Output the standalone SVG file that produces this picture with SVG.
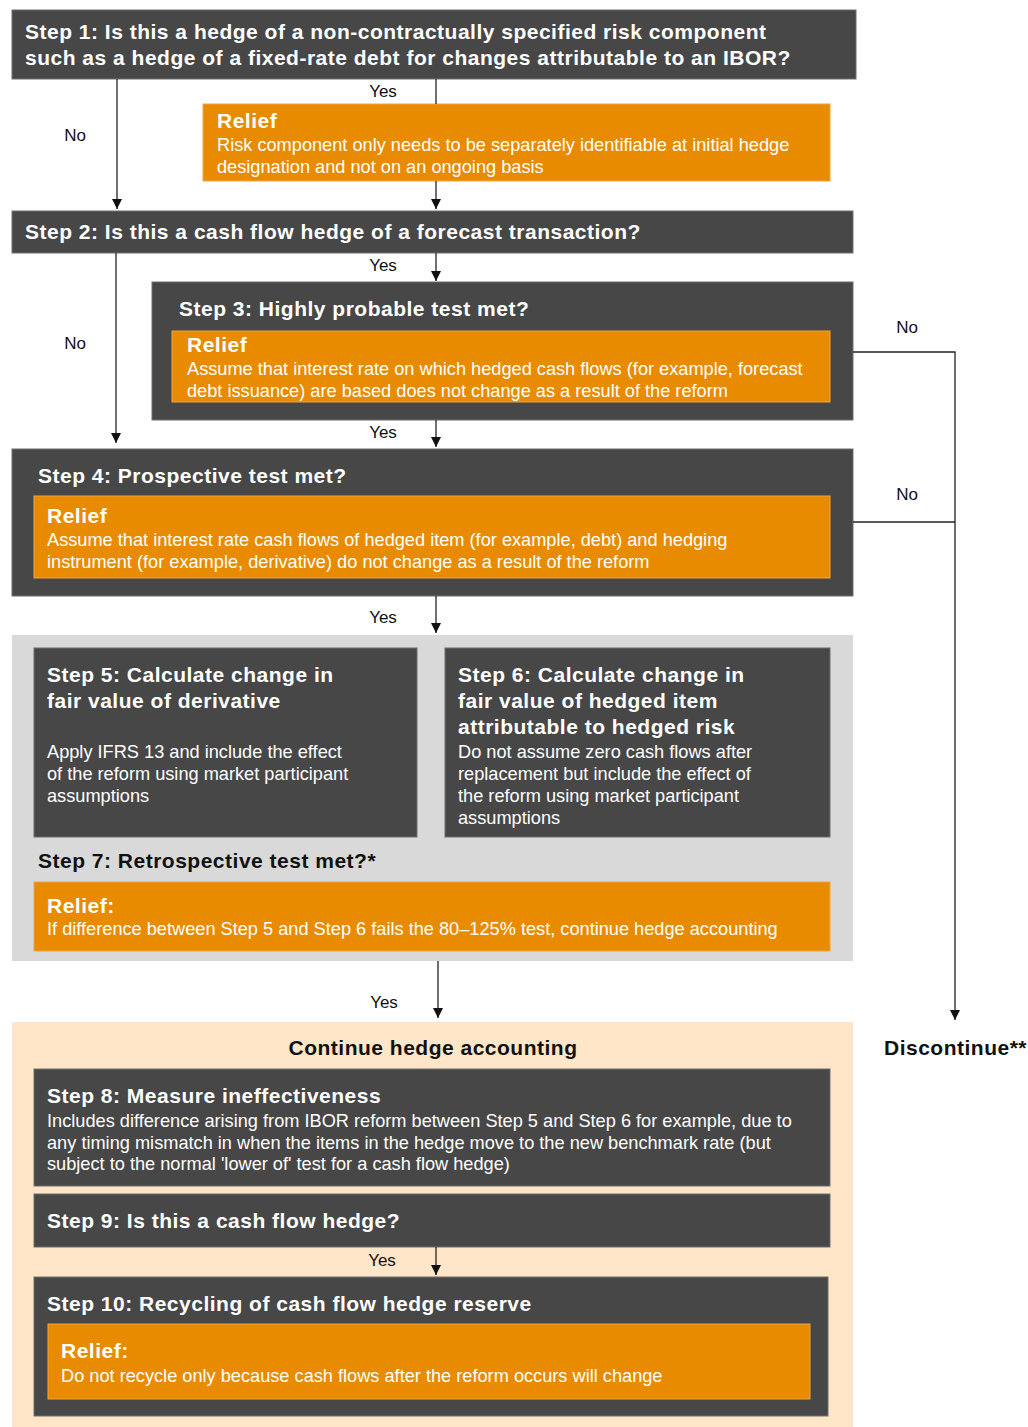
<svg xmlns="http://www.w3.org/2000/svg" width="1028" height="1427" viewBox="0 0 1028 1427">
<defs>
<marker id="ah" viewBox="0 0 10 10" refX="10" refY="5" markerWidth="10" markerHeight="10" markerUnits="userSpaceOnUse" orient="auto">
<path d="M0,0 L10,5 L0,10 z" fill="#111"/>
</marker>
<style>
.dark{fill:#474747;stroke:#6e6e6e;stroke-width:1}
.rel{fill:#E98B00;stroke:#F0A640;stroke-width:1}
.grey{fill:#D9D9D9}
.peach{fill:#FFE6C8}
.t{font-family:"Liberation Sans",Arial,sans-serif;font-weight:bold;font-size:21px;fill:#fff;letter-spacing:0.5px}
.tb{font-family:"Liberation Sans",Arial,sans-serif;font-weight:bold;font-size:21px;fill:#111;letter-spacing:0.5px}
.b{font-family:"Liberation Sans",Arial,sans-serif;font-size:18.2px;fill:#fff}
.lab{font-family:"Liberation Sans",Arial,sans-serif;font-size:17px;fill:#111}
.c{fill:none;stroke:#222;stroke-width:1.3}
</style>
</defs>

<g id="step1">
<rect class="dark" x="12" y="10" width="844" height="69"/>
<text class="t" x="25" y="39">Step 1: Is this a hedge of a non-contractually specified risk component</text>
<text class="t" x="25" y="65">such as a hedge of a fixed-rate debt for changes attributable to an IBOR?</text>
</g>

<g id="relief1">
<rect class="rel" x="203" y="104" width="627" height="77"/>
<text class="t" x="217" y="128">Relief</text>
<text class="b" x="217" y="151">Risk component only needs to be separately identifiable at initial hedge</text>
<text class="b" x="217" y="173">designation and not on an ongoing basis</text>
</g>

<g id="step2">
<rect class="dark" x="12" y="211" width="841" height="42"/>
<text class="t" x="25" y="239">Step 2: Is this a cash flow hedge of a forecast transaction?</text>
</g>

<g id="step3">
<rect class="dark" x="152" y="282" width="701" height="138"/>
<text class="t" x="179" y="316">Step 3: Highly probable test met?</text>
<rect class="rel" x="172" y="331" width="658" height="71"/>
<text class="t" x="187" y="352">Relief</text>
<text class="b" x="187" y="375">Assume that interest rate on which hedged cash flows (for example, forecast</text>
<text class="b" x="187" y="397">debt issuance) are based does not change as a result of the reform</text>
</g>

<g id="step4">
<rect class="dark" x="12" y="449" width="841" height="147"/>
<text class="t" x="38" y="483">Step 4: Prospective test met?</text>
<rect class="rel" x="34" y="496" width="796" height="82"/>
<text class="t" x="47" y="523">Relief</text>
<text class="b" x="47" y="546">Assume that interest rate cash flows of hedged item (for example, debt) and hedging</text>
<text class="b" x="47" y="568">instrument (for example, derivative) do not change as a result of the reform</text>
</g>

<g id="step5to7">
<rect class="grey" x="12" y="635" width="841" height="326"/>
<g id="step5">
<rect class="dark" x="34" y="648" width="383" height="189"/>
<text class="t" x="47" y="682">Step 5: Calculate change in</text>
<text class="t" x="47" y="708">fair value of derivative</text>
<text class="b" x="47" y="758">Apply IFRS 13 and include the effect</text>
<text class="b" x="47" y="780">of the reform using market participant</text>
<text class="b" x="47" y="802">assumptions</text>
</g>
<g id="step6">
<rect class="dark" x="445" y="648" width="385" height="189"/>
<text class="t" x="458" y="682">Step 6: Calculate change in</text>
<text class="t" x="458" y="708">fair value of hedged item</text>
<text class="t" x="458" y="734">attributable to hedged risk</text>
<text class="b" x="458" y="758">Do not assume zero cash flows after</text>
<text class="b" x="458" y="780">replacement but include the effect of</text>
<text class="b" x="458" y="802">the reform using market participant</text>
<text class="b" x="458" y="824">assumptions</text>
</g>
<g id="step7">
<text class="tb" x="38" y="868">Step 7: Retrospective test met?*</text>
<rect class="rel" x="34" y="882" width="796" height="69"/>
<text class="t" x="47" y="913">Relief:</text>
<text class="b" x="47" y="935">If difference between Step 5 and Step 6 fails the 80–125% test, continue hedge accounting</text>
</g>
</g>

<g id="continue">
<rect class="peach" x="12" y="1022" width="841" height="405"/>
<text class="tb" x="433" y="1055" text-anchor="middle">Continue hedge accounting</text>
<g id="step8">
<rect class="dark" x="34" y="1069" width="796" height="117"/>
<text class="t" x="47" y="1103">Step 8: Measure ineffectiveness</text>
<text class="b" x="47" y="1127">Includes difference arising from IBOR reform between Step 5 and Step 6 for example, due to</text>
<text class="b" x="47" y="1149">any timing mismatch in when the items in the hedge move to the new benchmark rate (but</text>
<text class="b" x="47" y="1170">subject to the normal 'lower of' test for a cash flow hedge)</text>
</g>
<g id="step9">
<rect class="dark" x="34" y="1194" width="796" height="53"/>
<text class="t" x="47" y="1228">Step 9: Is this a cash flow hedge?</text>
</g>
<g id="step10">
<rect class="dark" x="34" y="1277" width="794" height="139"/>
<text class="t" x="47" y="1311">Step 10: Recycling of cash flow hedge reserve</text>
<rect class="rel" x="48" y="1324" width="762" height="75"/>
<text class="t" x="61" y="1358">Relief:</text>
<text class="b" x="61" y="1382">Do not recycle only because cash flows after the reform occurs will change</text>
</g>
</g>

<g id="discontinue">
<text class="tb" x="884" y="1055">Discontinue**</text>
</g>

<g id="connectors">
<line class="c" x1="117" y1="79" x2="117" y2="209" marker-end="url(#ah)"/>
<line class="c" x1="436" y1="79" x2="436" y2="104"/>
<line class="c" x1="436" y1="181" x2="436" y2="209" marker-end="url(#ah)"/>
<line class="c" x1="436" y1="253" x2="436" y2="281" marker-end="url(#ah)"/>
<line class="c" x1="116" y1="253" x2="116" y2="443" marker-end="url(#ah)"/>
<line class="c" x1="436" y1="420" x2="436" y2="447" marker-end="url(#ah)"/>
<line class="c" x1="436" y1="596" x2="436" y2="633" marker-end="url(#ah)"/>
<line class="c" x1="438" y1="961" x2="438" y2="1018" marker-end="url(#ah)"/>
<line class="c" x1="436" y1="1247" x2="436" y2="1275" marker-end="url(#ah)"/>
<polyline class="c" points="853,352 955,352 955,1020" marker-end="url(#ah)"/>
<line class="c" x1="853" y1="522" x2="955" y2="522"/>
<text class="lab" x="383" y="97" text-anchor="middle">Yes</text>
<text class="lab" x="75" y="141" text-anchor="middle">No</text>
<text class="lab" x="383" y="271" text-anchor="middle">Yes</text>
<text class="lab" x="75" y="349" text-anchor="middle">No</text>
<text class="lab" x="383" y="438" text-anchor="middle">Yes</text>
<text class="lab" x="907" y="333" text-anchor="middle">No</text>
<text class="lab" x="907" y="500" text-anchor="middle">No</text>
<text class="lab" x="383" y="623" text-anchor="middle">Yes</text>
<text class="lab" x="384" y="1008" text-anchor="middle">Yes</text>
<text class="lab" x="382" y="1266" text-anchor="middle">Yes</text>
</g>
</svg>
